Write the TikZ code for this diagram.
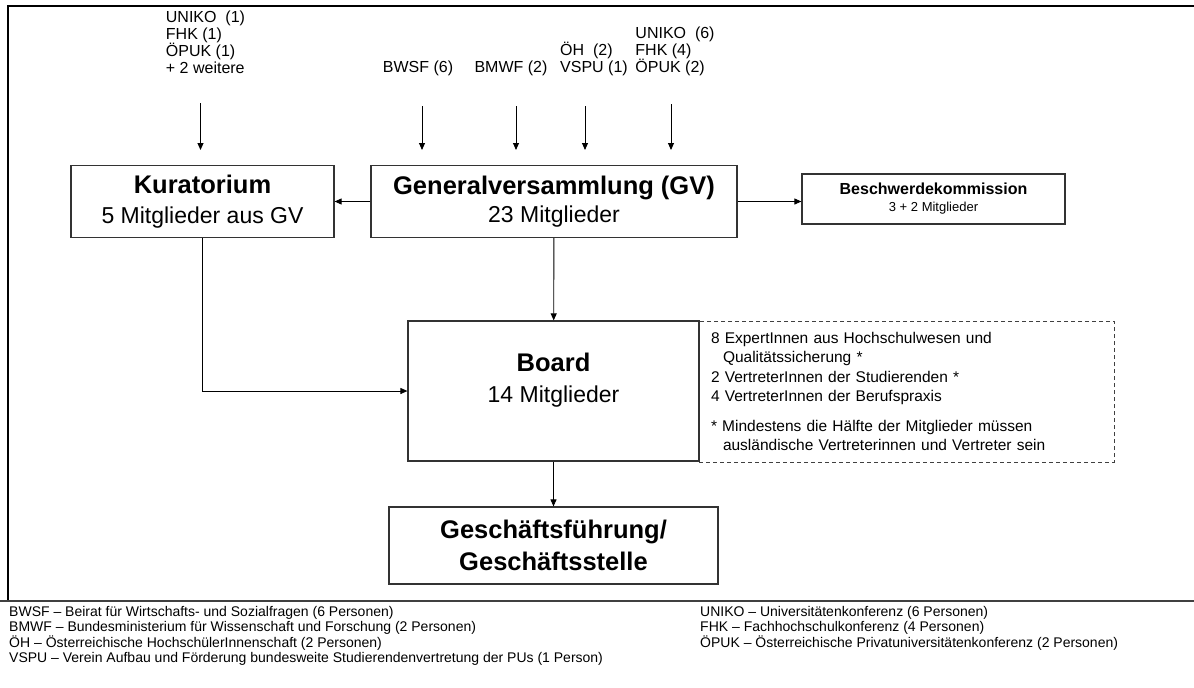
\documentclass[tikz,border=0pt]{standalone}
\usepackage{fontspec}
\setmainfont{Liberation Sans}
\usetikzlibrary{arrows.meta}
\tikzset {>={Triangle[length=7pt,width=6pt]}}
\tikzset{box/.style={draw=black!80,line width=1.2pt,fill=white,align=center,inner sep=0pt},
  inlabel/.style={font=\fontsize{16}{17}\selectfont,align=left,inner sep=2pt,anchor=south},
  legend/.style={font=\fontsize{14}{15.5}\selectfont,align=left,inner sep=0pt,anchor=north west}}
\newcommand\boxhead[1]{{\bfseries\fontsize{25.5}{30}\selectfont #1}}

\begin{document}
\begin{tikzpicture}[x=1pt,y=-1pt]
\useasboundingbox (0,0) rectangle (1194,688);
\draw[line width=1.5pt] (8,601) -- (8,6) -- (1194,6);
\draw[line width=1.2pt,black!75] (0,601) -- (1194,601);

\node[box,minimum width=263pt,minimum height=72pt,font=\fontsize{23}{30}\selectfont] (kur) at (202.5,201.5)
  {\boxhead{Kuratorium}\\5 Mitglieder aus GV};
\node[box,minimum width=366pt,minimum height=72pt,font=\fontsize{23}{28}\selectfont] (gv) at (554,201.5)
  {\boxhead{Generalversammlung (GV)}\\23 Mitglieder};
\node[box,minimum width=263pt,minimum height=50pt,font=\fontsize{13}{17}\selectfont] (bk) at (933.5,199)
  {{\bfseries\fontsize{16}{17}\selectfont Beschwerdekommission}\\3 + 2 Mitglieder};
\node[box,draw=black!75,line width=1pt,dash pattern=on 4pt off 3pt,minimum width=415pt,minimum height=141pt,
  align=left,text width=391pt,inner xsep=12pt,font=\fontsize{15.5}{19.5}\selectfont] (note) at (906.5,391.5)
  {8 ExpertInnen aus Hochschulwesen und\\
   \hspace*{12pt}Qualitätssicherung *\\
   2 VertreterInnen der Studierenden *\\
   4 VertreterInnen der Berufspraxis\\[10pt]
   * Mindestens die Hälfte der Mitglieder müssen\\
   \hspace*{12pt}ausländische Vertreterinnen und Vertreter sein};
\node[box,minimum width=291pt,minimum height=140pt] (board) at (553.5,391) {};
\node[align=center,font=\fontsize{23}{31}\selectfont] (boardtext) at (553.5,380)
  {\boxhead{Board}\\14 Mitglieder};
\node[box,minimum width=329pt,minimum height=77pt,font=\fontsize{25.5}{32}\selectfont] (gf) at (553.5,545.5)
  {\boxhead{Geschäftsführung/}\\\boxhead{Geschäftsstelle}};

\node[inlabel] (kin) at (205.5,76) {UNIKO\ \ (1)\\FHK (1)\\ÖPUK (1)\\+ 2 weitere};
\node[inlabel] (bwsf) at (418,78) {BWSF (6)};
\node[inlabel] (bmwf) at (511,78) {BMWF (2)};
\node[inlabel] (oeh) at (594,78) {ÖH\ \ (2)\\VSPU (1)};
\node[inlabel] (uniko) at (675,78) {UNIKO\ \ (6)\\FHK (4)\\ÖPUK (2)};
\foreach \n/\s/\d/\l in {kin/-5/27/47,bwsf/4/28/44,bmwf/5/28/44,oeh/-9/28/44,uniko/-4/26/46}
  \draw[->,line width=0.9pt] ([xshift=\s pt,yshift=-\d pt]\n.south) -- ++(0,\l);

\draw[->,line width=0.9pt] (gv) -- (kur);
\draw[->,line width=0.9pt] (gv.east) -- (gv.east -| bk.west);
\draw[->,line width=0.9pt] (gv) -- (board);
\draw[->,line width=0.9pt] (kur.south) |- (board.west);
\draw[->,line width=0.9pt] (board) -- (gf);

\node[legend] (legl) at (9,606)
  {BWSF – Beirat für Wirtschafts- und Sozialfragen (6 Personen)\\
   BMWF – Bundesministerium für Wissenschaft und Forschung (2 Personen)\\
   ÖH – Österreichische HochschülerInnenschaft (2 Personen)\\
   VSPU – Verein Aufbau und Förderung bundesweite Studierendenvertretung der PUs (1 Person)};
\node[legend] (legr) at (700,606)
  {UNIKO – Universitätenkonferenz (6 Personen)\\
   FHK – Fachhochschulkonferenz (4 Personen)\\
   ÖPUK – Österreichische Privatuniversitätenkonferenz (2 Personen)};
\end{tikzpicture}
\end{document}
